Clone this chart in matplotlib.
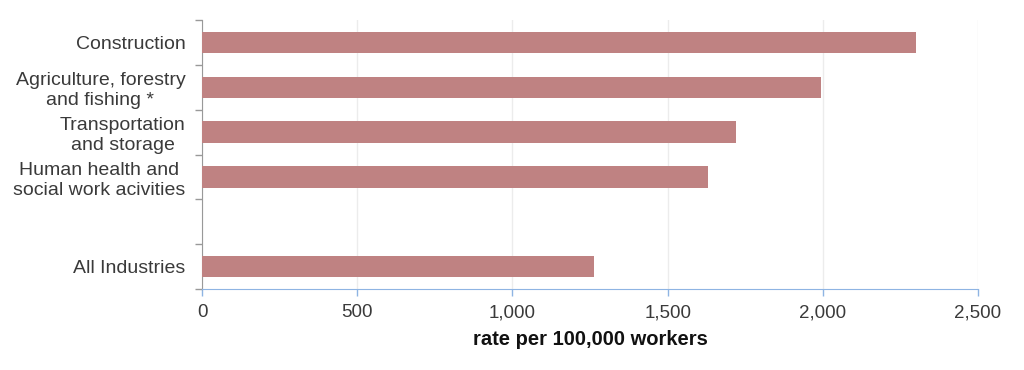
import matplotlib.pyplot as plt

plt.rcParams['font.family'] = ['Liberation Sans', 'DejaVu Sans']

categories = ['Construction', 'Agriculture, forestry\nand fishing *', 'Transportation\nand storage',
              'Human health and\nsocial work acivities', '', 'All Industries']
rates = [2300, 1994, 1719, 1629, None, 1262]
xticks = [0, 500, 1000, 1500, 2000, 2500]
xtick_labels = ['0', '500', '1,000', '1,500', '2,000', '2,500']

bar_color = '#BF8282'
text_color = '#3A3A3A'

fig = plt.figure(figsize=(10.24, 3.7), dpi=100)
ax = fig.add_axes([0.1973, 0.2189, 0.7578, 0.7270])

pos = list(range(len(categories)))
for p, v in zip(pos, rates):
    if v is not None:
        ax.barh(p, v, height=0.48, color=bar_color, zorder=3)

ax.set_ylim(len(categories) - 0.5, -0.5)
ax.set_xlim(0, 2500)

# category labels at centres, tick marks on boundaries
ax.set_yticks(pos)
ax.set_yticklabels(categories, fontsize=14, color=text_color, linespacing=1.2)
for lab in ax.get_yticklabels():
    lab.set_multialignment('center')
ax.tick_params(axis='y', which='major', length=0, pad=12)
ax.set_yticks([p - 0.5 for p in pos] + [len(pos) - 0.5], minor=True)
ax.tick_params(axis='y', which='minor', length=5, color='#999999', width=1)

ax.set_xticks(xticks)
ax.set_xticklabels(xtick_labels, fontsize=13.5, color=text_color)
ax.tick_params(axis='x', length=5, color='#8EB4E3', width=1, pad=6)
ax.grid(axis='x', color='#ECECEC', linewidth=1, zorder=0)

for s in ['top', 'right']:
    ax.spines[s].set_visible(False)
ax.spines['left'].set_color('#999999')
ax.spines['bottom'].set_color('#8EB4E3')

ax.set_xlabel('rate per 100,000 workers', fontsize=14.5, fontweight='bold', color='#111111', labelpad=6)

plt.savefig('out.png', dpi=100)
